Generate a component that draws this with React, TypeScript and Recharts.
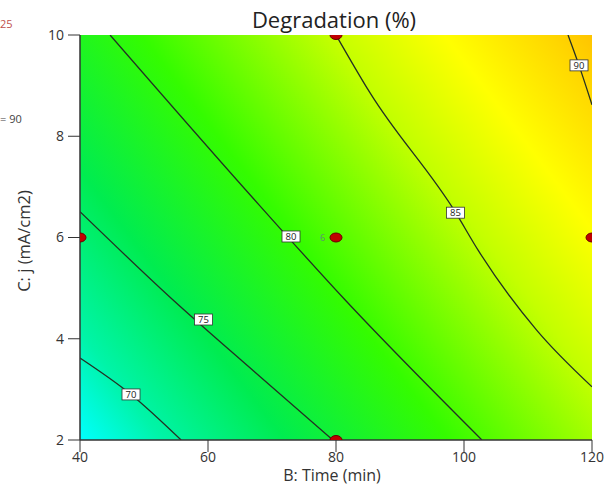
import React from 'react'
import { ComposedChart, Line, Scatter, XAxis, YAxis, CartesianGrid } from 'recharts'

// contour lines (time in min, j in mA/cm2)
const contour70 = [
  { time: 40, j: 3.62 },
  { time: 47.97, j: 2.9 },
  { time: 55.8, j: 2 },
]
const contour75 = [
  { time: 40, j: 6.51 },
  { time: 54.5, j: 4.77 },
  { time: 66.6, j: 3.42 },
  { time: 79.5, j: 2 },
]
const contour80 = [
  { time: 44.7, j: 10 },
  { time: 66.6, j: 6.84 },
  { time: 81.4, j: 4.77 },
  { time: 102.8, j: 2 },
]
const contour85 = [
  { time: 80, j: 10 },
  { time: 85.3, j: 8.86 },
  { time: 98.7, j: 6.49 },
  { time: 102.2, j: 5.75 },
  { time: 111.35, j: 4.17 },
  { time: 120, j: 3.05 },
]
const contour90 = [
  { time: 116.25, j: 10 },
  { time: 117.97, j: 9.4 },
  { time: 120, j: 8.62 },
]
const contours = [contour70, contour75, contour80, contour85, contour90]

const contourLabels = [
  { time: 47.97, j: 2.9, text: '70' },
  { time: 59.3, j: 4.38, text: '75' },
  { time: 72.97, j: 6.02, text: '80' },
  { time: 98.67, j: 6.49, text: '85' },
  { time: 117.97, j: 9.4, text: '90' },
]

const designPoints = [
  { time: 80, j: 10 },
  { time: 80, j: 6 },
  { time: 80, j: 2 },
  { time: 40, j: 6 },
  { time: 120, j: 6 },
]
const centerCount = [{ time: 77.9, j: 6, text: '6' }]

const timeTicks = [40, 60, 80, 100, 120]
const jTicks = [2, 4, 6, 8, 10]

const font = '"Open Sans", "Noto Sans", sans-serif'

const Dot = (p: any) => (
  <ellipse cx={p.cx} cy={p.cy} rx={6} ry={4.5} fill="#c00000" stroke="#6a0000" strokeWidth={1} />
)

const BoxLabel = (p: any) => (
  <g>
    <rect x={p.cx - 9} y={p.cy - 5.5} width={18} height={11} fill="#fff" stroke="#333" strokeWidth={0.8} />
    <text x={p.cx} y={p.cy + 3.4} textAnchor="middle" fontSize={9.5} fontFamily={font} fill="#222">
      {p.payload.text}
    </text>
  </g>
)

const CountLabel = (p: any) => (
  <text x={p.cx} y={p.cy + 3} textAnchor="middle" fontSize={9} fontFamily={font} fill="#5f8a78">
    {p.payload.text}
  </text>
)

export default function App() {
  const tick = { fill: '#333', fontSize: 14, fontFamily: font }
  return (
    <div style={{ position: 'absolute', left: 0, top: 0, width: 604, height: 486, background: '#fff' }}>
      <ComposedChart width={604} height={486} margin={{ top: 35, right: 12, bottom: 0, left: 0 }}>
        <defs>
          <linearGradient id="bg" x1="0" y1="1" x2="1.176" y2="0.294">
            <stop offset="0" stopColor="#00ffff" />
            <stop offset="0.1" stopColor="#00f4a8" />
            <stop offset="0.25" stopColor="#00ec50" />
            <stop offset="0.45" stopColor="#34fc00" />
            <stop offset="0.68" stopColor="#c4ff00" />
            <stop offset="0.82" stopColor="#ffff00" />
            <stop offset="0.95" stopColor="#ffd600" />
            <stop offset="1" stopColor="#ffc400" />
          </linearGradient>
        </defs>
        <CartesianGrid horizontal={false} vertical={false} fill="url(#bg)" fillOpacity={1} />
        <XAxis
          xAxisId={0}
          type="number"
          dataKey="time"
          domain={[40, 120]}
          ticks={timeTicks}
          height={46}
          tick={tick}
          tickSize={12}
          tickMargin={0}
          axisLine={{ stroke: '#333', strokeWidth: 1.5 }}
          tickLine={{ stroke: '#333' }}
          allowDataOverflow
        />
        <XAxis xAxisId="top" orientation="top" type="number" domain={[40, 120]} height={0} tick={false} tickLine={false} axisLine={{ stroke: '#6b6a3a', strokeWidth: 1.5 }} />
        <YAxis
          yAxisId={0}
          type="number"
          dataKey="j"
          domain={[2, 10]}
          ticks={jTicks}
          width={80}
          tick={tick}
          tickSize={12}
          tickMargin={4}
          axisLine={{ stroke: '#333', strokeWidth: 1.5 }}
          tickLine={{ stroke: '#333' }}
          allowDataOverflow
        />
        <YAxis yAxisId="right" orientation="right" type="number" domain={[2, 10]} width={0} tick={false} tickLine={false} axisLine={{ stroke: '#6b6a3a', strokeWidth: 1.5 }} />
        {contours.map((c, i) => (
          <Line
            key={i}
            data={c}
            dataKey="j"
            type="monotone"
            stroke="#243024"
            strokeWidth={1.3}
            dot={false}
            activeDot={false}
            isAnimationActive={false}
          />
        ))}
        <Scatter data={contourLabels} dataKey="j" shape={BoxLabel} isAnimationActive={false} />
        <Scatter data={centerCount} dataKey="j" shape={CountLabel} isAnimationActive={false} />
        <Scatter data={designPoints} dataKey="j" shape={Dot} isAnimationActive={false} />
        <text x={334} y={28} textAnchor="middle" fontSize={22} fontFamily={font} fill="#222">
          Degradation (%)
        </text>
        <text x={332} y={481} textAnchor="middle" fontSize={16} fontFamily={font} fill="#333">
          B: Time (min)
        </text>
        <text x={30} y={241} textAnchor="middle" fontSize={16.5} fontFamily={font} fill="#333" transform="rotate(-90 30 241)">
          C: j (mA/cm2)
        </text>
        <text x={0} y={28} fontSize={11} fontFamily={font} fill="#c0504d">
          25
        </text>
        <text x={0} y={123} fontSize={11} fontFamily={font} fill="#444">
          = 90
        </text>
      </ComposedChart>
    </div>
  )
}
